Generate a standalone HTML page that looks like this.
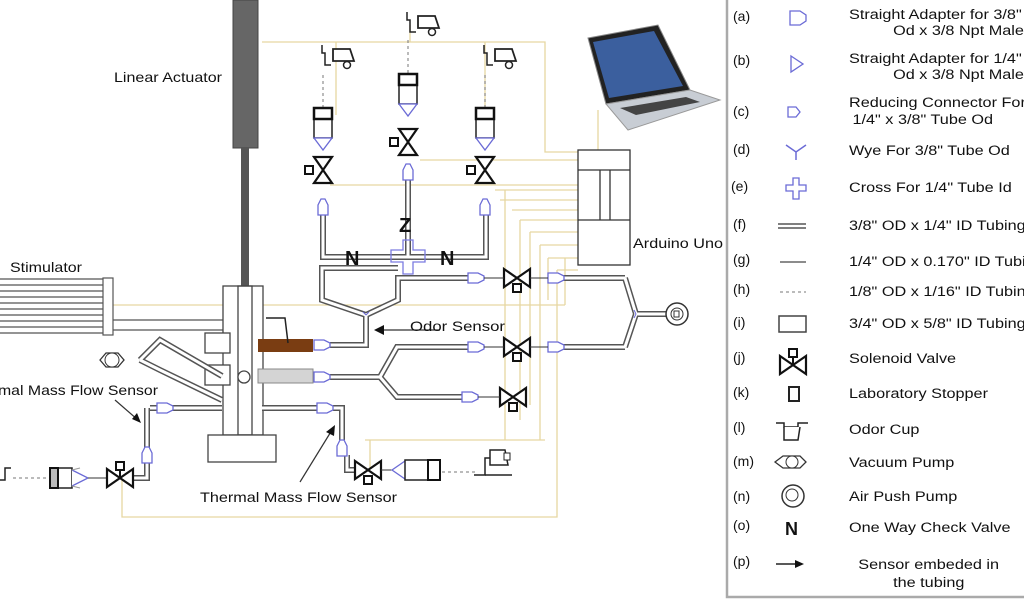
<!DOCTYPE html>
<html><head><meta charset="utf-8"><style>
html,body{margin:0;padding:0;background:#fff;}
svg{display:block;font-family:"Liberation Sans",sans-serif;}
.to{fill:none;stroke:#555;stroke-width:6;}
.ti{fill:none;stroke:#fff;stroke-width:3;}
.y{fill:none;stroke:#e6d7a2;stroke-width:1.3;}
.k{fill:none;stroke:#222;stroke-width:1.5;}
.b{fill:#fff;stroke:#6b6bd6;stroke-width:1.3;}
text{fill:#111;}
</style></head><body>
<svg width="1024" height="600" viewBox="0 0 1024 600">
<defs>
<g id="vh"><path d="M-13,-9 L0,0 L-13,9Z M13,-9 L0,0 L13,9Z" fill="#fff" stroke="#111" stroke-width="2.2"/><rect x="-4" y="6" width="8" height="8" fill="#fff" stroke="#111" stroke-width="2"/></g>
<g id="vhu"><path d="M-13,-9 L0,0 L-13,9Z M13,-9 L0,0 L13,9Z" fill="#fff" stroke="#111" stroke-width="2.2"/><rect x="-4" y="-16" width="8" height="8" fill="#fff" stroke="#111" stroke-width="2"/><path d="M0,-8V0" stroke="#111" stroke-width="2"/></g>
<g id="vv"><path d="M-9,-13 L0,0 L9,-13Z M-9,13 L0,0 L9,13Z" fill="#fff" stroke="#111" stroke-width="2.2"/><rect x="-18" y="-4" width="8" height="8" fill="#fff" stroke="#111" stroke-width="2"/></g>
<g id="adv"><path d="M-5,8 L-5,-2 L-2,-8 L2,-8 L5,-2 L5,8Z" class="b"/></g>
<g id="adh"><path d="M-8,-5 L2,-5 L8,-2 L8,2 L2,5 L-8,5Z" class="b"/></g>
<g id="cup"><path d="M-8,-20 V-12 h3 V0 h6" class="k" stroke-width="2"/><path d="M3,-16 H20 L24,-4 H3Z" fill="#fff" stroke="#222" stroke-width="1.8"/><circle cx="17" cy="0" r="3.5" fill="#fff" stroke="#222" stroke-width="1.5"/></g>
<g id="stop"><rect x="-9" y="0" width="18" height="30" fill="#fff" stroke="#222" stroke-width="1.5"/><rect x="-9" y="0" width="18" height="11" fill="#fff" stroke="#111" stroke-width="2.5"/><path d="M-9,30 L0,42 L9,30Z" class="b"/></g>
</defs>

<!-- yellow wiring -->
<path class="y" d="M262,42 H545 V152 H578 M336,42V115 M485,42V110 M410,25V42"/>
<path class="y" d="M420,160 H578 M330,185 H578 M495,190 H578 M500,200 H578 M505,190 V440 M512,210 H578 V205 M520,220 H578 M520,220V420 M530,232 H578 M530,232V405 M540,245 H578 M540,245V440 M548,258 H578 M548,258V300 M557,270 H578 M557,270 V517 H122 V478 M565,258 V305"/>
<path class="y" d="M113,305 H565 M365,440 H545 M370,440 V470 M598,110 V150"/>

<!-- Linear actuator -->
<rect x="233" y="0" width="25" height="148" fill="#666" stroke="#444"/>
<rect x="241" y="148" width="8" height="140" fill="#555"/>
<text x="114" y="82" font-size="14" textLength="108" lengthAdjust="spacingAndGlyphs">Linear Actuator</text>

<!-- Stimulator -->
<text x="10" y="272" font-size="14" textLength="72" lengthAdjust="spacingAndGlyphs">Stimulator</text>
<g stroke="#555" stroke-width="1.2" fill="none">
<path d="M0,279H103 M0,285H103 M0,291H103 M0,297H103 M0,303H103 M0,309H103 M0,315H103 M0,321H103 M0,327H103 M0,333H103"/>
<rect x="103" y="278" width="10" height="57"/>
<path d="M113,320H223 M113,330H223"/>
</g>

<!-- Housing -->
<g stroke="#444" stroke-width="1.3" fill="#fff">
<rect x="223" y="286" width="40" height="149"/>
<rect x="238" y="286" width="14" height="149" fill="none"/>
<rect x="208" y="435" width="68" height="27"/>
<rect x="205" y="333" width="25" height="20"/>
<rect x="205" y="365" width="25" height="20"/>
<circle cx="244" cy="377" r="6"/>
</g>
<rect x="258" y="339" width="55" height="13" fill="#7a3d12"/>
<rect x="258" y="369" width="55" height="14" fill="#d4d4d4" stroke="#888"/>
<path d="M266,318 L285,318 L288,343" class="k" stroke-width="1"/>

<!-- tubes -->
<g>
<path class="to" d="M323,215V257H486V215 M408,180V257 M398,268H322V300L366,315L398,300V278H470 M366,315V345H330 M330,377H380L397,347H470 M380,377L397,397H465 M262,408H320 M333,408H342V440 M150,408H222 M147,408V448 M147,463V478H132 M625,278L636,314L625,347 M560,278H625 M560,347H625 M636,314H666 M140,360L160,340L222,376 M140,360L160,370L222,400 M347,455V470H355"/>
<path class="ti" d="M323,215V257H486V215 M408,180V257 M398,268H322V300L366,315L398,300V278H470 M366,315V345H330 M330,377H380L397,347H470 M380,377L397,397H465 M262,408H320 M333,408H342V440 M150,408H222 M147,408V448 M147,463V478H132 M625,278L636,314L625,347 M560,278H625 M560,347H625 M636,314H666 M140,360L160,340L222,376 M140,360L160,370L222,400 M347,455V470H355"/>
</g>

<!-- check valves and cross -->
<text x="345" y="265" font-size="20" font-weight="bold">N</text>
<text x="440" y="265" font-size="20" font-weight="bold">N</text>
<text x="399" y="232" font-size="20" font-weight="bold">Z</text>
<path d="M403,250h-12v12h12v12h10v-12h12v-12h-12v-10h-10Z" fill="none" stroke="#7b7be0" stroke-width="1.3"/>

<!-- top columns -->
<use href="#cup" x="330" y="65"/><use href="#cup" x="415" y="32"/><use href="#cup" x="492" y="65"/>
<path d="M323,75V108 M408,40V74 M485,75V108" stroke="#777" stroke-dasharray="3,3"/>
<use href="#stop" x="323" y="108"/><use href="#stop" x="408" y="74"/><use href="#stop" x="485" y="108"/>
<use href="#vv" x="323" y="170"/><use href="#vv" x="408" y="142"/><use href="#vv" x="485" y="170"/>
<use href="#adv" x="323" y="207"/><use href="#adv" x="408" y="172"/><use href="#adv" x="485" y="207"/>

<!-- right valves -->
<use href="#adh" x="476" y="278"/><use href="#vh" x="517" y="278"/><use href="#adh" x="556" y="278"/>
<use href="#adh" x="476" y="347"/><use href="#vh" x="517" y="347"/><use href="#adh" x="556" y="347"/>
<use href="#adh" x="470" y="397"/><use href="#vh" x="513" y="397"/>
<path d="M484,278H504 M530,278H548 M484,347H504 M530,347H548 M478,397H500" stroke="#333"/>
<circle cx="677" cy="314" r="11" fill="#fff" stroke="#333" stroke-width="1.5"/><circle cx="677" cy="314" r="6" fill="none" stroke="#333"/>
<rect x="674" y="311" width="5" height="6" fill="none" stroke="#333"/>
<path d="M366,315l-3,-3M366,315l3,-3M636,314l-2,-4M636,314l-2,4" stroke="#6b6bd6"/>

<!-- adapters at housing -->
<use href="#adh" x="322" y="345"/><use href="#adh" x="322" y="377"/><use href="#adh" x="325" y="408"/><use href="#adh" x="165" y="408"/>
<use href="#adv" x="342" y="448"/><use href="#adv" x="147" y="455"/>

<!-- vacuum pump left -->
<path d="M100,360 L106,353 H118 L124,360 L118,367 H106Z" fill="#fff" stroke="#333" stroke-width="1.3"/>
<circle cx="112" cy="360" r="7" fill="#fff" stroke="#333"/>

<!-- bottom left chain -->
<path d="M0,480 h5 V468 h6" class="k" stroke-width="2"/>
<path d="M13,478H48" stroke="#777" stroke-dasharray="3,3"/>
<rect x="50" y="468" width="22" height="20" fill="#fff" stroke="#222" stroke-width="1.5"/><rect x="50" y="468" width="8" height="20" fill="#bbb" stroke="#111" stroke-width="2"/>
<path d="M72,470 L88,478 L72,486" class="b"/><path d="M72,470 L80,468 M72,486 L80,488" stroke="#999"/>
<path d="M88,478H108" stroke="#333"/>
<use href="#vhu" x="120" y="478"/>

<!-- bottom right chain -->
<use href="#vh" x="368" y="470"/>
<path d="M381,470H392" stroke="#333"/>
<path d="M405,461 L392,470 L405,479" class="b"/>
<rect x="405" y="460" width="35" height="20" fill="#fff" stroke="#222" stroke-width="1.5"/><rect x="428" y="460" width="12" height="20" fill="#fff" stroke="#111" stroke-width="2"/>
<path d="M442,472H478" stroke="#777" stroke-dasharray="3,3"/>
<path d="M474,475 H485 V458 H492" class="k" stroke-width="2"/><path d="M490,450 H505 L508,465 H490Z" fill="#fff" stroke="#222" stroke-width="1.5"/><rect x="504" y="453" width="6" height="7" fill="#fff" stroke="#222"/><path d="M485,475H512" class="k"/>

<!-- arrows and labels -->
<path d="M440,330H380" stroke="#333" stroke-width="1.3"/><path d="M374,330 L384,325 L384,335Z" fill="#111"/>
<text x="410" y="331" font-size="14" textLength="95" lengthAdjust="spacingAndGlyphs">Odor Sensor</text>
<path d="M300,482 L332,430" stroke="#333" stroke-width="1.2"/><path d="M335,425 L326,432 L334,436Z" fill="#111"/>
<text x="200" y="502" font-size="14" textLength="197" lengthAdjust="spacingAndGlyphs">Thermal Mass Flow Sensor</text>
<path d="M115,400 L138,420" stroke="#333" stroke-width="1.2"/><path d="M141,423 L132,419 L137,413Z" fill="#111"/>
<text x="-2" y="395" font-size="14" textLength="160" lengthAdjust="spacingAndGlyphs">mal Mass Flow Sensor</text>

<!-- Arduino -->
<g fill="#fff" stroke="#333" stroke-width="1.3">
<rect x="578" y="150" width="52" height="115"/>
<path d="M578,170H630 M578,220H630 M600,170V220 M610,170V220" fill="none"/>
</g>
<text x="633" y="248" font-size="14" textLength="90" lengthAdjust="spacingAndGlyphs">Arduino Uno</text>

<!-- Laptop -->
<polygon points="588,38 658,25 690,90 606,104" fill="#222" stroke="#888"/>
<polygon points="593,42 654,31 683,86 609,98" fill="#3b5f9e"/>
<polygon points="606,104 690,90 720,100 628,130" fill="#c8cdd4" stroke="#999"/>
<polygon points="620,108 686,97 700,102 636,115" fill="#444"/>

<!-- Legend -->
<path d="M727,0V597H1024" stroke="#aaa" stroke-width="2.5" fill="none"/>
<g font-size="14">
<text x="733" y="21">(a)</text><text x="733" y="65">(b)</text><text x="733" y="116">(c)</text><text x="733" y="154">(d)</text><text x="731" y="191">(e)</text><text x="733" y="229">(f)</text><text x="733" y="264">(g)</text><text x="733" y="294">(h)</text><text x="733" y="327">(i)</text><text x="733" y="362">(j)</text><text x="733" y="397">(k)</text><text x="733" y="432">(l)</text><text x="733" y="466">(m)</text><text x="733" y="501">(n)</text><text x="733" y="530">(o)</text><text x="733" y="566">(p)</text>
</g>
<g font-size="14" transform="translate(849,0) scale(1.16,1) translate(-849,0)">
<text x="849" y="19">Straight Adapter for 3/8"</text><text x="887" y="35">Od x 3/8 Npt Male</text>
<text x="849" y="63">Straight Adapter for 1/4"</text><text x="887" y="79">Od x 3/8 Npt Male</text>
<text x="849" y="107">Reducing Connector For</text><text x="852" y="124">1/4" x 3/8" Tube Od</text>
<text x="849" y="155">Wye For 3/8" Tube Od</text>
<text x="849" y="192">Cross For 1/4" Tube Id</text>
<text x="849" y="230">3/8" OD x 1/4" ID Tubing</text>
<text x="849" y="266">1/4" OD x 0.170" ID Tubing</text>
<text x="849" y="296">1/8" OD x 1/16" ID Tubing</text>
<text x="849" y="328">3/4" OD x 5/8" ID Tubing</text>
<text x="849" y="363">Solenoid Valve</text>
<text x="849" y="398">Laboratory Stopper</text>
<text x="849" y="434">Odor Cup</text>
<text x="849" y="467">Vacuum Pump</text>
<text x="849" y="501">Air Push Pump</text>
<text x="849" y="532">One Way Check Valve</text>
<text x="857" y="569">Sensor embeded in</text><text x="887" y="587">the tubing</text>
</g>
<g>
<path d="M790,11H800L806,15V21L800,25H790Z" class="b"/>
<path d="M791,56L803,64L791,72Z" class="b"/>
<path d="M788,107H796L800,112L796,117H788Z" class="b"/>
<path d="M786,145L796,152L806,145M796,152V160" fill="none" stroke="#6b6bd6" stroke-width="1.5"/>
<path d="M793,178h6v7h7v6h-7v8h-6v-8h-7v-6h7Z" class="b"/>
<path d="M778,224H806M778,228H806" stroke="#555" stroke-width="1.5"/>
<path d="M780,262H806" stroke="#666" stroke-width="1.5"/>
<path d="M780,292H806" stroke="#777" stroke-dasharray="3,3"/>
<rect x="779" y="316" width="27" height="16" fill="#fff" stroke="#444" stroke-width="1.5"/>
<use href="#vhu" x="793" y="365"/>
<rect x="789" y="387" width="10" height="14" fill="#fff" stroke="#222" stroke-width="2"/>
<path d="M776,423 h8 v4 h14 v-4 h10" class="k" stroke-width="1.5"/><path d="M784,427 V440 H798 L800,427" fill="#fff" stroke="#222" stroke-width="1.5"/>
<path d="M775,462 L783,456 H800 L806,462 L800,468 H783Z" fill="none" stroke="#333" stroke-width="1.3"/><circle cx="792" cy="462" r="6" fill="#fff" stroke="#333"/>
<circle cx="793" cy="496" r="11" fill="#fff" stroke="#333" stroke-width="1.5"/><circle cx="792" cy="495" r="6" fill="none" stroke="#333"/>
<text x="785" y="535" font-size="18" font-weight="bold">N</text>
<path d="M776,564H796" stroke="#222" stroke-width="1.5"/><path d="M804,564 L795,560 L795,568Z" fill="#111"/>
</g>
</svg>
</body></html>
